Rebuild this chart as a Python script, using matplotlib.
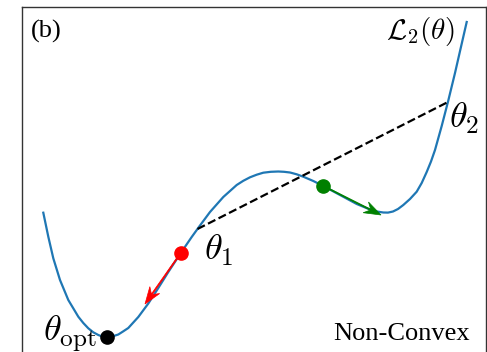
import matplotlib
matplotlib.use("Agg")
import matplotlib.pyplot as plt

plt.rcParams["mathtext.fontset"] = "cm"
plt.rcParams["font.family"] = ["Liberation Serif", "DejaVu Serif"]

# loss curve L2(theta)
theta = [0.213, 0.263, 0.313, 0.38, 0.463, 0.563, 0.613, 0.663, 0.713, 0.763,
         0.805, 0.847, 0.90, 0.963, 1.01, 1.063, 1.163, 1.263, 1.363, 1.463,
         1.59, 1.697, 1.78, 1.88, 2.013, 2.147, 2.213, 2.28, 2.347, 2.413,
         2.488, 2.563, 2.62, 2.68, 2.747, 2.813, 2.913, 3.013, 3.18, 3.347,
         3.48, 3.547, 3.613, 3.66, 3.71, 3.76, 3.813, 3.88, 3.947, 3.997,
         4.047, 4.09, 4.13, 4.197, 4.263, 4.33, 4.385, 4.447]
loss = [1.393, 1.153, 0.937, 0.72, 0.52, 0.353, 0.29, 0.237, 0.197, 0.17,
        0.154, 0.147, 0.155, 0.175, 0.205, 0.24, 0.35, 0.485, 0.64, 0.80,
        0.993, 1.15, 1.265, 1.40, 1.55, 1.67, 1.712, 1.747, 1.773, 1.793,
        1.802, 1.805, 1.802, 1.795, 1.777, 1.753, 1.71, 1.66, 1.57, 1.48,
        1.425, 1.405, 1.395, 1.394, 1.405, 1.43, 1.47, 1.53, 1.603, 1.69,
        1.80, 1.905, 2.02, 2.26, 2.515, 2.79, 3.03, 3.30]

opt = (0.847, 0.147)
theta1 = (1.59, 0.993)
theta_g = (3.013, 1.66)
chord_x = [1.755, 4.26]
chord_y = [1.23, 2.50]
red_tip = (1.23, 0.48)
green_tip = (3.59, 1.37)

fig = plt.figure(figsize=(4.87, 3.52), dpi=100)
ax = fig.add_axes([22 / 487, -5 / 352, 464 / 487, 350 / 352])

ax.plot(theta, loss, color="#1f77b4", lw=1.6, solid_joinstyle="round")
ax.plot(chord_x, chord_y, "k--", lw=1.6)

# gradient steps
for p, tip, c in [(theta1, red_tip, "red"), (theta_g, green_tip, "green")]:
    ax.arrow(p[0], p[1], tip[0] - p[0], tip[1] - p[1], fc=c, ec=c, lw=0.5,
             width=0.011, head_width=0.12, head_length=0.17, overhang=0.3,
             length_includes_head=True, zorder=3)

ax.plot(*opt, "o", color="black", ms=9.5, zorder=4)
ax.plot(*theta1, "o", color="red", ms=9.5, zorder=4)
ax.plot(*theta_g, "o", color="green", ms=9.5, zorder=4)

ax.text(1.82, 1.02, r"$\theta_1$", fontsize=26, va="center", ha="left")
ax.text(4.27, 2.34, r"$\theta_2$", fontsize=26, va="center", ha="left")
ax.text(0.75, 0.18, r"$\theta_{\rm opt}$", fontsize=26, va="center", ha="right")
ax.text(4.33, 3.20, r"$\mathcal{L}_2(\theta)$", fontsize=21, va="center", ha="right")

ax.text(0.019, 0.931, "(b)", transform=ax.transAxes, fontsize=19,
        va="center", ha="left")
ax.text(0.966, 0.066, "Non-Convex", transform=ax.transAxes, fontsize=19,
        va="center", ha="right")

ax.set_xlim(0, 4.64)
ax.set_ylim(-0.05, 3.45)
ax.set_xticks([])
ax.set_yticks([])
for s in ax.spines.values():
    s.set_color("#333333")
    s.set_linewidth(1.0)

plt.savefig("out.png", dpi=100)
plt.close()
